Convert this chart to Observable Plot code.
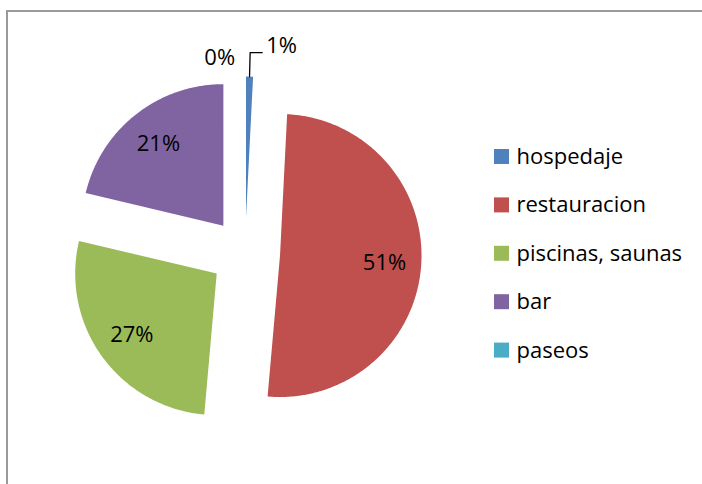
<!DOCTYPE html>
<html><head><meta charset="utf-8">
<script src="https://cdn.jsdelivr.net/npm/d3@7"></script>
<script src="https://cdn.jsdelivr.net/npm/@observablehq/plot@0.6"></script>
<style>
html,body{margin:0;padding:0;background:#fff;overflow:hidden;}
#wrap{position:relative;width:702px;height:484px;overflow:hidden;}
#border{position:absolute;left:6px;top:10px;width:720px;height:500px;border-left:2px solid #9a9a9a;border-top:2px solid #9a9a9a;}
#chart{position:absolute;left:0;top:0;}
</style></head><body>
<div id="wrap"><div id="border"></div><div id="chart"></div></div>
<script>
// ---- data ----
const categories = ["hospedaje", "restauracion", "piscinas, saunas", "bar", "paseos"];
const values = [0.8, 50.6, 27.3, 21.3, 0];
const colors = ["#4F81BD", "#C0504D", "#9BBB59", "#8064A2", "#4BACC6"];

// ---- layout ----
const W = 702, H = 484;
const cx = 244.6, cy = 252.6, R = 141.5, explode = 35;
const insideK = 0.74, outsideGap = 24, smallShare = 0.03;
const legX = 494, legY0 = 156.5, legStep = 48.4, legSize = 15;
const FONT = "Open Sans", FS = 22;

const total = d3.sum(values);
const fmt = d3.format(".0%");
const arcs = d3.pie().sort(null).value(d => d)(values);

const slicePts = [], inside = [], outR = [], outL = [], leaders = [];
arcs.forEach((a, i) => {
  const cat = categories[i];
  const mid = (a.startAngle + a.endAngle) / 2;
  const sx = Math.sin(mid), sy = -Math.cos(mid);
  const ox = cx + explode * sx, oy = cy + explode * sy;
  const span = a.endAngle - a.startAngle;
  if (span > 0) {
    const n = Math.max(2, Math.ceil(span / (Math.PI / 360)));
    slicePts.push({cat, x: ox, y: oy});
    for (let k = 0; k <= n; k++) {
      const t = a.startAngle + span * k / n;
      slicePts.push({cat, x: ox + R * Math.sin(t), y: oy - R * Math.cos(t)});
    }
    slicePts.push({cat, x: ox, y: oy});
  }
  const share = values[i] / total;
  const text = fmt(share);
  if (share >= smallShare) {
    inside.push({x: ox + insideK * R * sx, y: oy + insideK * R * sy, text});
  } else {
    const ex = ox + (R + outsideGap) * sx, ey = oy + (R + outsideGap) * sy;
    if (mid < Math.PI) {
      if (values[i] > 0) {
        leaders.push({id: i, x: ox + R * sx, y: oy + R * sy});
        leaders.push({id: i, x: ex, y: ey});
        leaders.push({id: i, x: ex + 12, y: ey});
      }
      outR.push({x: ex + 16, y: ey - 7, text});
    } else {
      outL.push({x: ex - 10, y: ey + 5, text});
    }
  }
});

const legend = categories.map((c, i) => ({cat: c, i}));

const plot = Plot.plot({
  width: W, height: H,
  margin: 0,
  x: {domain: [0, W], range: [0, W], axis: null},
  y: {domain: [0, H], range: [0, H], axis: null},
  color: {domain: categories, range: colors},
  style: {fontFamily: FONT, fontSize: FS + "px", background: "transparent", color: "#000"},
  marks: [
    Plot.line(slicePts, {x: "x", y: "y", z: "cat", fill: "cat", stroke: "none"}),
    Plot.line(leaders, {x: "x", y: "y", z: "id", stroke: "#000", strokeWidth: 1.3}),
    Plot.text(inside, {x: "x", y: "y", text: "text", fill: "#000", fontSize: FS}),
    Plot.text(outR, {x: "x", y: "y", text: "text", fill: "#000", fontSize: FS, textAnchor: "start"}),
    Plot.text(outL, {x: "x", y: "y", text: "text", fill: "#000", fontSize: FS, textAnchor: "end"}),
    Plot.rect(legend, {x1: () => legX, x2: () => legX + legSize,
      y1: d => legY0 + d.i * legStep - legSize / 2, y2: d => legY0 + d.i * legStep + legSize / 2,
      fill: "cat"}),
    Plot.text(legend, {x: () => legX + legSize + 7, y: d => legY0 + d.i * legStep, text: "cat",
      fill: "#000", fontSize: FS, textAnchor: "start"})
  ]
});
document.getElementById("chart").appendChild(plot);
</script>
</body></html>
